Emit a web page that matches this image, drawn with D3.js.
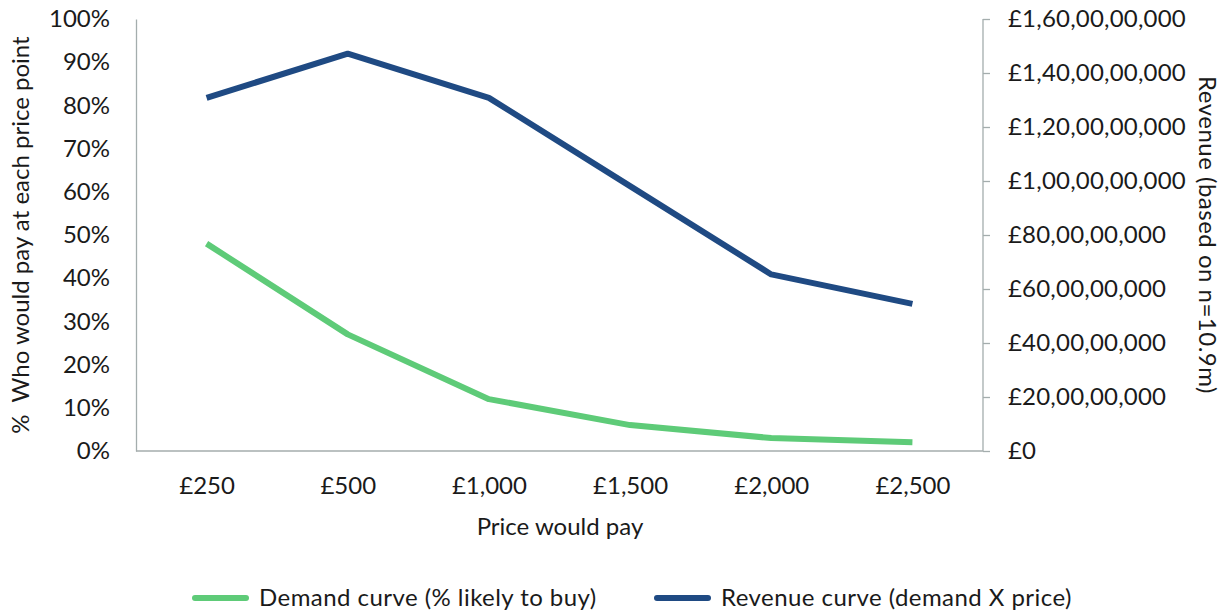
<!DOCTYPE html>
<html>
<head>
<meta charset="utf-8">
<script src="https://cdn.jsdelivr.net/npm/d3@7"></script>
<style>
  html, body { margin: 0; padding: 0; background: #fff; }
  svg text { font-family: Lato, "Liberation Sans", sans-serif; fill: #1a1a1a; }
</style>
</head>
<body>
<svg id="chart" width="1224" height="615"></svg>
<script>
// Price points and the two series
const categories = ["£250", "£500", "£1,000", "£1,500", "£2,000", "£2,500"];
const demand = [0.48, 0.27, 0.12, 0.06, 0.03, 0.02];
const revenue = [1308000000, 1471500000, 1308000000, 981000000, 654000000, 545000000];
const leftTicks = [0, 0.1, 0.2, 0.3, 0.4, 0.5, 0.6, 0.7, 0.8, 0.9, 1.0];
const rightTicks = [0, 200000000, 400000000, 600000000, 800000000, 1000000000, 1200000000, 1400000000, 1600000000];
const rightTickLabels = ["£0", "£20,00,00,000", "£40,00,00,000", "£60,00,00,000", "£80,00,00,000",
  "£1,00,00,00,000", "£1,20,00,00,000", "£1,40,00,00,000", "£1,60,00,00,000"];
const seriesNames = ["Demand curve (% likely to buy)", "Revenue curve (demand X price)"];

const colors = { demand: "#5ecb78", revenue: "#1f4a83", axis: "#a4adad" };
const fontSize = 24;

const svg = d3.select("#chart");
const m = { left: 136, right: 983, top: 19, bottom: 451 };

const x = d3.scalePoint().domain(categories).range([m.left, m.right]).padding(0.5);
const yL = d3.scaleLinear().domain([0, 1]).range([m.bottom, m.top]);
const yR = d3.scaleLinear().domain([0, 1600000000]).range([m.bottom, m.top]);

// Left axis
const leftAxis = svg.append("g").attr("transform", `translate(${m.left},0)`)
  .call(d3.axisLeft(yL).tickValues(leftTicks).tickSize(0).tickPadding(26)
    .tickFormat(d => Math.round(d * 100) + "%"));
leftAxis.select(".domain").attr("stroke", colors.axis).attr("stroke-width", 1.3);
leftAxis.selectAll("text").attr("font-size", fontSize);

// Right axis
const rightAxis = svg.append("g").attr("transform", `translate(${m.right},0)`)
  .call(d3.axisRight(yR).tickValues(rightTicks).tickSize(7).tickPadding(18)
    .tickFormat((d, i) => rightTickLabels[i]));
rightAxis.select(".domain").attr("stroke", colors.axis).attr("stroke-width", 1.3)
  .attr("d", `M0,${m.top}V${m.bottom}`);
rightAxis.selectAll(".tick line").attr("stroke", colors.axis).attr("stroke-width", 1.3);
rightAxis.selectAll("text").attr("font-size", fontSize).attr("letter-spacing", 0.2);

// Bottom axis
const bottomAxis = svg.append("g").attr("transform", `translate(0,${m.bottom})`)
  .call(d3.axisBottom(x).tickSize(0).tickPadding(26));
bottomAxis.select(".domain").attr("stroke", colors.axis).attr("stroke-width", 1.3)
  .attr("d", `M${m.left},0H${m.right}`);
bottomAxis.selectAll("text").attr("font-size", fontSize);

// Axis titles
svg.append("text").attr("transform", "translate(29,235) rotate(-90)")
  .attr("text-anchor", "middle").attr("font-size", fontSize)
  .attr("xml:space", "preserve")
  .text("%  Who would pay at each price point");
svg.append("text").attr("transform", "translate(1199,235) rotate(90)")
  .attr("text-anchor", "middle").attr("font-size", fontSize).attr("letter-spacing", 0.5)
  .text("Revenue (based on n=10.9m)");
svg.append("text").attr("x", 560).attr("y", 535)
  .attr("text-anchor", "middle").attr("font-size", fontSize)
  .text("Price would pay");

// Series lines
const demandLine = d3.line().x((d, i) => x(categories[i])).y(d => yL(d));
const revenueLine = d3.line().x((d, i) => x(categories[i])).y(d => yR(d));

svg.append("path").datum(demand).attr("d", demandLine)
  .attr("fill", "none").attr("stroke", colors.demand).attr("stroke-width", 6)
  .attr("stroke-linejoin", "round");
svg.append("path").datum(revenue).attr("d", revenueLine)
  .attr("fill", "none").attr("stroke", colors.revenue).attr("stroke-width", 6)
  .attr("stroke-linejoin", "round");

// Legend
const legend = [
  { name: seriesNames[0], color: colors.demand, x: 195 },
  { name: seriesNames[1], color: colors.revenue, x: 657 }
];
const lg = svg.append("g").selectAll("g").data(legend).join("g")
  .attr("transform", d => `translate(${d.x},598)`);
lg.append("line").attr("x1", 0).attr("x2", 51).attr("y1", 0).attr("y2", 0)
  .attr("stroke", d => d.color).attr("stroke-width", 6).attr("stroke-linecap", "round");
lg.append("text").attr("x", 64).attr("y", 8).attr("font-size", fontSize)
  .attr("letter-spacing", 0.45).text(d => d.name);
</script>
</body>
</html>
